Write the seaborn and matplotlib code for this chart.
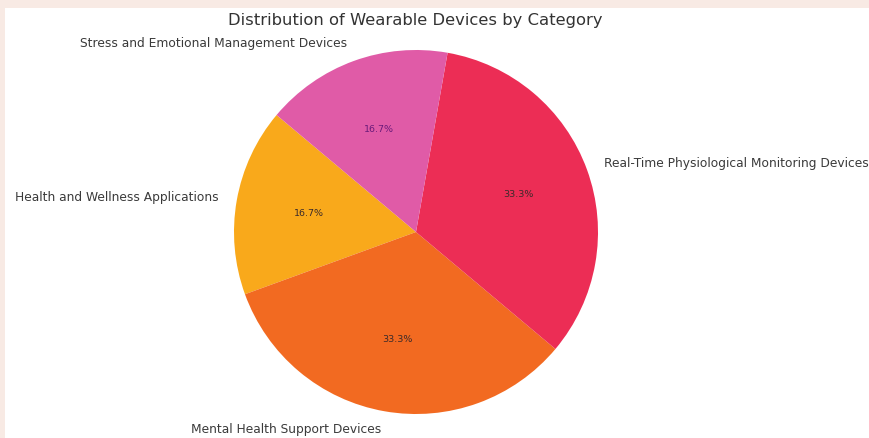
import matplotlib
matplotlib.use("Agg")
import matplotlib.pyplot as plt
from matplotlib.patches import Rectangle
import seaborn as sns

categories = [
    "Health and Wellness Applications",
    "Mental Health Support Devices",
    "Real-Time Physiological Monitoring Devices",
    "Stress and Emotional Management Devices",
]
counts = [1, 2, 2, 1]
slice_colors = ["#F9A91B", "#F26A21", "#EC2D55", "#E05BA7"]

sns.set_style("white")
plt.rcParams["font.family"] = ["DejaVu Sans"]

W, H = 870, 438
fig = plt.figure(figsize=(W / 100, H / 100), dpi=100)
fig.patch.set_facecolor("#F8EAE4")
# white card over the pinkish page background
fig.add_artist(Rectangle((5 / W, 0), 1, 1 - 8 / H, transform=fig.transFigure,
                         facecolor="white", edgecolor="none", zorder=0))

# pie centre (416, 232) px, radius 182 px
cx, cy, r = 416, 232, 182
ax = fig.add_axes([(cx - 1.25 * r) / W, (H - cy - 1.25 * r) / H,
                   2.5 * r / W, 2.5 * r / H])
palette = sns.color_palette(slice_colors)
wedges, texts, autotexts = ax.pie(
    counts, labels=categories, colors=palette, startangle=140,
    autopct="%1.1f%%", pctdistance=0.6, labeldistance=1.1,
    wedgeprops=dict(linewidth=0, edgecolor="none"),
    textprops=dict(fontsize=8.8, color="#3a3a3a"),
)
for t in autotexts:
    t.set_fontsize(6.8)
    t.set_color("#3a2a2a")
autotexts[3].set_color("#6a1a7a")
ax.set_xlim(-1.25, 1.25)
ax.set_ylim(-1.25, 1.25)
ax.set_aspect("auto")
ax.axis("off")

fig.text(415 / W, 1 - 20 / H, "Distribution of Wearable Devices by Category",
         ha="center", va="center", fontsize=11.8, color="#333333")

fig.savefig("out.png", dpi=100, facecolor=fig.get_facecolor())
